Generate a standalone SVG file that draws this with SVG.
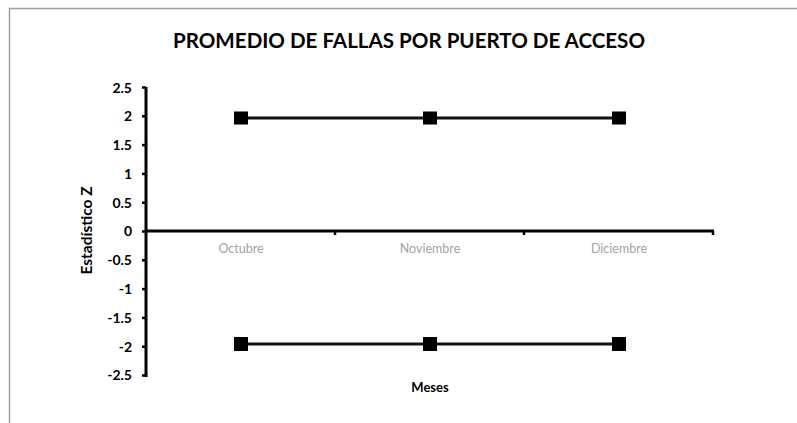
<svg xmlns="http://www.w3.org/2000/svg" width="797" height="423" viewBox="0 0 797 423">
<style>
text{font-family:Lato,"Liberation Sans",sans-serif}
.title{font-size:21px;font-weight:bold;fill:#000}
.ytick{font-size:14px;font-weight:bold;fill:#000;text-anchor:end}
.xcat{font-size:12.5px;fill:#a3a3a3;text-anchor:middle}
.atitle{font-size:15.5px;font-weight:bold;fill:#000;text-anchor:middle}
.axis{stroke:#000;stroke-width:3;fill:none}
.tick{stroke:#000;stroke-width:2.5}
.series{stroke:#111;stroke-width:3;fill:none}
.mk{fill:#000}
</style>
<rect width="797" height="423" fill="#fff"/>
<path d="M9.5 423 V8.5 H797" fill="none" stroke="#a0a0a0" stroke-width="1.5"/>
<text class="title" x="409" y="48" text-anchor="middle" textLength="472" lengthAdjust="spacingAndGlyphs">PROMEDIO DE FALLAS POR PUERTO DE ACCESO</text>
<g id="y-axis">
<line class="axis" x1="146" y1="87" x2="146" y2="377"/>
<g class="tick">
<line x1="142" y1="87.5" x2="146" y2="87.5"/>
<line x1="142" y1="116.3" x2="146" y2="116.3"/>
<line x1="142" y1="145.1" x2="146" y2="145.1"/>
<line x1="142" y1="173.9" x2="146" y2="173.9"/>
<line x1="142" y1="202.7" x2="146" y2="202.7"/>
<line x1="142" y1="231.5" x2="146" y2="231.5"/>
<line x1="142" y1="260.3" x2="146" y2="260.3"/>
<line x1="142" y1="289.1" x2="146" y2="289.1"/>
<line x1="142" y1="317.9" x2="146" y2="317.9"/>
<line x1="142" y1="346.7" x2="146" y2="346.7"/>
<line x1="142" y1="375.5" x2="146" y2="375.5"/>
</g>
<text class="ytick" x="132" y="92.5">2.5</text>
<text class="ytick" x="132" y="121">2</text>
<text class="ytick" x="132" y="150">1.5</text>
<text class="ytick" x="132" y="178.5">1</text>
<text class="ytick" x="132" y="207.5">0.5</text>
<text class="ytick" x="132" y="236">0</text>
<text class="ytick" x="132" y="265">-0.5</text>
<text class="ytick" x="132" y="293.5">-1</text>
<text class="ytick" x="132" y="322.5">-1.5</text>
<text class="ytick" x="132" y="351.5">-2</text>
<text class="ytick" x="132" y="380">-2.5</text>
<text class="atitle" transform="translate(92 230.5) rotate(-90)">Estadístico Z</text>
</g>
<g id="x-axis">
<line class="axis" x1="146" y1="231" x2="714" y2="231"/>
<g class="tick">
<line x1="335" y1="231" x2="335" y2="235"/>
<line x1="524" y1="231" x2="524" y2="235"/>
<line x1="713" y1="231" x2="713" y2="235"/>
</g>
<text class="xcat" x="241" y="253">Octubre</text>
<text class="xcat" x="430" y="253">Noviembre</text>
<text class="xcat" x="619" y="253">Diciembre</text>
<text class="atitle" x="430" y="392" style="font-size:13px">Meses</text>
</g>
<g id="connectors">
<polyline class="series" points="241,118 430,118 619,118"/>
<polyline class="series" points="241,344 430,344 619,344"/>
</g>
<g id="upper-series">
<rect class="mk" x="234" y="111.5" width="14" height="13"/>
<rect class="mk" x="423" y="111.5" width="14" height="13"/>
<rect class="mk" x="612" y="111.5" width="14" height="13"/>
</g>
<g id="lower-series">
<rect class="mk" x="234" y="337" width="14" height="14"/>
<rect class="mk" x="423" y="337" width="14" height="14"/>
<rect class="mk" x="612" y="337" width="14" height="14"/>
</g>
</svg>
